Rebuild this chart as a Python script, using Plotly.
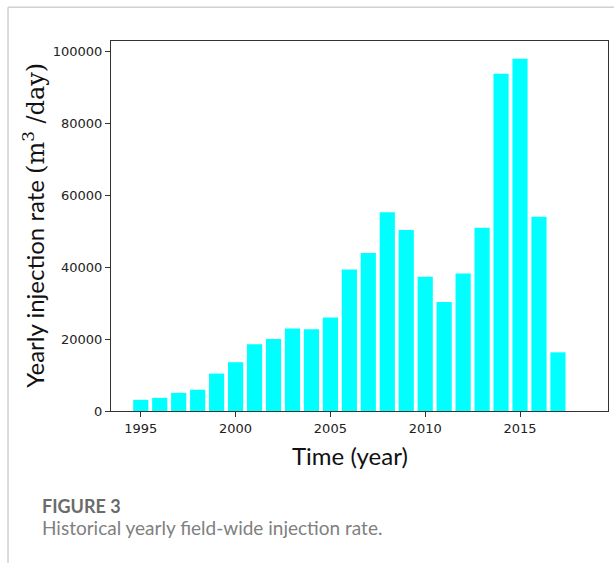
import plotly.graph_objects as go

# Yearly field-wide injection rate, m3/day
years = list(range(1995, 2018))
rates = [3100, 3650, 5050, 5900, 10400, 13550, 18550, 20000, 22900, 22700,
         26000, 39300, 43900, 55200, 50300, 37300, 30300, 38200, 50900,
         93700, 97900, 54000, 16300]

x_ticks = [1995, 2000, 2005, 2010, 2015]
y_ticks = [0, 20000, 40000, 60000, 80000, 100000]

fig = go.Figure()
fig.add_trace(go.Bar(
    x=years, y=rates, width=0.8,
    marker=dict(color="#00FFFF", line=dict(width=0)),
))

axis_common = dict(
    showline=True, mirror=True, linecolor="#333333", linewidth=1.2,
    ticks="outside", ticklen=5, tickwidth=1, tickcolor="#333333",
    showgrid=False, zeroline=False,
    tickfont=dict(family="DejaVu Sans", size=13, color="#222222"),
)

fig.update_layout(
    width=614, height=563,
    margin=dict(l=111, r=6, t=41, b=152),
    paper_bgcolor="white", plot_bgcolor="white",
    showlegend=False,
    xaxis=dict(range=[1993.43, 2019.64], tickvals=x_ticks, tickformat="d", **axis_common),
    yaxis=dict(range=[0, 102800], tickvals=y_ticks, tickformat="d", **axis_common),
)

# Axis titles
fig.add_annotation(
    text="Time (year)", xref="paper", yref="paper",
    x=0.481, y=-0.119, xanchor="center", yanchor="middle", showarrow=False,
    font=dict(family="Lato", size=24, color="#111111"),
)
fig.add_annotation(
    text="Yearly injection rate <span style='font-family:DejaVu Serif'>(m<sup>3</sup> /day)</span>",
    xref="paper", yref="paper",
    x=-0.155, y=0.503, xanchor="center", yanchor="middle", textangle=-90,
    showarrow=False,
    font=dict(family="Lato", size=24, color="#111111"),
)

# Caption
fig.add_annotation(
    text="<b>FIGURE 3</b>", xref="paper", yref="paper",
    x=-0.143, y=-0.257, xanchor="left", yanchor="middle", showarrow=False,
    font=dict(family="Lato", size=18, color="#6b6b6b"),
)
fig.add_annotation(
    text="Historical yearly field-wide injection rate.", xref="paper", yref="paper",
    x=-0.143, y=-0.316, xanchor="left", yanchor="middle", showarrow=False,
    font=dict(family="Lato", size=19, color="#808080"),
)

# Card border (top and left edges)
fig.add_shape(type="line", xref="paper", yref="paper",
              x0=-0.2072, x1=1.02, y0=1.0914, y1=1.0914,
              line=dict(color="#d0d0d0", width=1.5))
fig.add_shape(type="line", xref="paper", yref="paper",
              x0=-0.2072, x1=-0.2072, y0=1.0914, y1=-0.43,
              line=dict(color="#d0d0d0", width=1.5))

fig.write_html("out.html")
